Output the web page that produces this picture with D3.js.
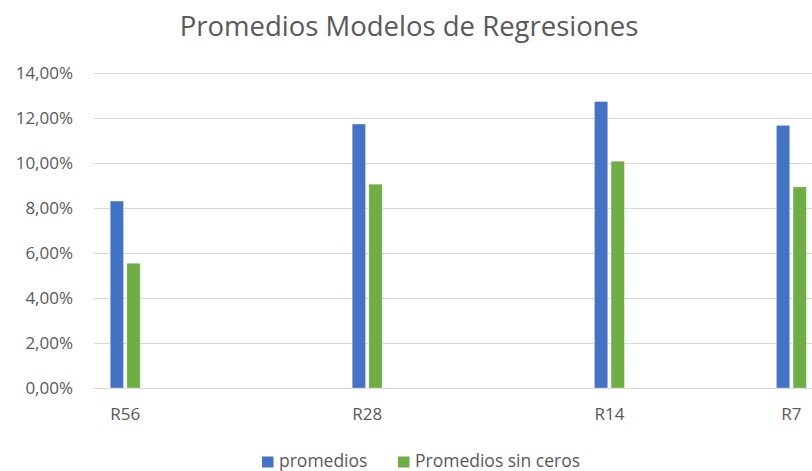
<html>
<style>
body { margin: 0; background: #fff; }
svg text { font-family: "Open Sans", sans-serif; fill: #595959; }
.grid line { stroke: #d9d9d9; stroke-width: 1px; }
</style>
<svg width="812" height="471"></svg>
<script src="https://d3js.org/d3.v7.min.js"></script>
<script>

var categories = ["R56", "R28", "R14", "R7"];
var series = ["promedios", "Promedios sin ceros"];
var promedios = [0.0830, 0.1172, 0.1272, 0.1166];
var sinCeros = [0.0554, 0.0905, 0.1007, 0.0893];
var yTicks = [0, 0.02, 0.04, 0.06, 0.08, 0.10, 0.12, 0.14];
var colors = ["#4472c4", "#70ad47"];

var svg = d3.select("svg"),
    width = +svg.attr("width"),
    height = +svg.attr("height");

var es = d3.formatLocale({decimal: ",", thousands: ".", grouping: [3], currency: ["", "€"]});
var pct = es.format(".2%");

var y = d3.scaleLinear()
    .domain([0, 0.14])
    .range([388, 72.7]);

// the category slots in the original are not evenly spaced (last one is squeezed)
var x = d3.scaleLinear()
    .domain([0, 1, 2, 3])
    .range([125.2, 367.2, 609.4, 791.4]);

var xs = d3.scaleBand()
    .domain(series)
    .range([-15, 15])
    .paddingInner(0.2);

// title
svg.append("text")
    .attr("x", 409)
    .attr("y", 36)
    .attr("text-anchor", "middle")
    .style("font-size", "27.5px")
    .text("Promedios Modelos de Regresiones");

// gridlines
svg.append("g")
    .attr("class", "grid")
  .selectAll("line")
  .data(yTicks)
  .enter().append("line")
    .attr("x1", 94)
    .attr("x2", width)
    .attr("y1", function(d) { return Math.round(y(d)) + 0.5; })
    .attr("y2", function(d) { return Math.round(y(d)) + 0.5; });

// y axis labels
var yAxis = svg.append("g")
    .attr("transform", "translate(80,0)")
    .call(d3.axisLeft(y).tickValues(yTicks).tickFormat(pct).tickSize(0).tickPadding(7));
yAxis.select(".domain").remove();
yAxis.selectAll("text")
    .style("font-size", "17px")
    .attr("fill", "#595959");

// bars
var rows = categories.map(function(c, i) {
  return {cat: c, i: i, vals: [promedios[i], sinCeros[i]]};
});

var groups = svg.append("g")
  .selectAll("g")
  .data(rows)
  .enter().append("g")
    .attr("transform", function(d) { return "translate(" + x(d.i) + ",0)"; });

groups.selectAll("rect")
  .data(function(d) { return d.vals.map(function(v, j) { return {s: series[j], v: v, j: j}; }); })
  .enter().append("rect")
    .attr("x", function(d) { return xs(d.s); })
    .attr("width", xs.bandwidth())
    .attr("y", function(d) { return y(d.v); })
    .attr("height", function(d) { return y(0) - y(d.v); })
    .attr("fill", function(d) { return colors[d.j]; })
    .attr("stroke", "#fff")
    .attr("stroke-opacity", 0.5)
    .attr("stroke-width", 0.6);

// category labels
groups.append("text")
    .attr("x", 0)
    .attr("y", 420)
    .attr("text-anchor", "middle")
    .style("font-size", "17px")
    .text(function(d) { return d.cat; });

// legend
var legend = svg.append("g");
var lx = [262, 398];
series.forEach(function(s, j) {
  legend.append("rect")
    .attr("x", lx[j])
    .attr("y", 456.5)
    .attr("width", 11.5)
    .attr("height", 11)
    .attr("fill", colors[j]);
  legend.append("text")
    .attr("x", lx[j] + 17)
    .attr("y", 466.5)
    .style("font-size", "17.5px")
    .text(s);
});

</script>
</html>
